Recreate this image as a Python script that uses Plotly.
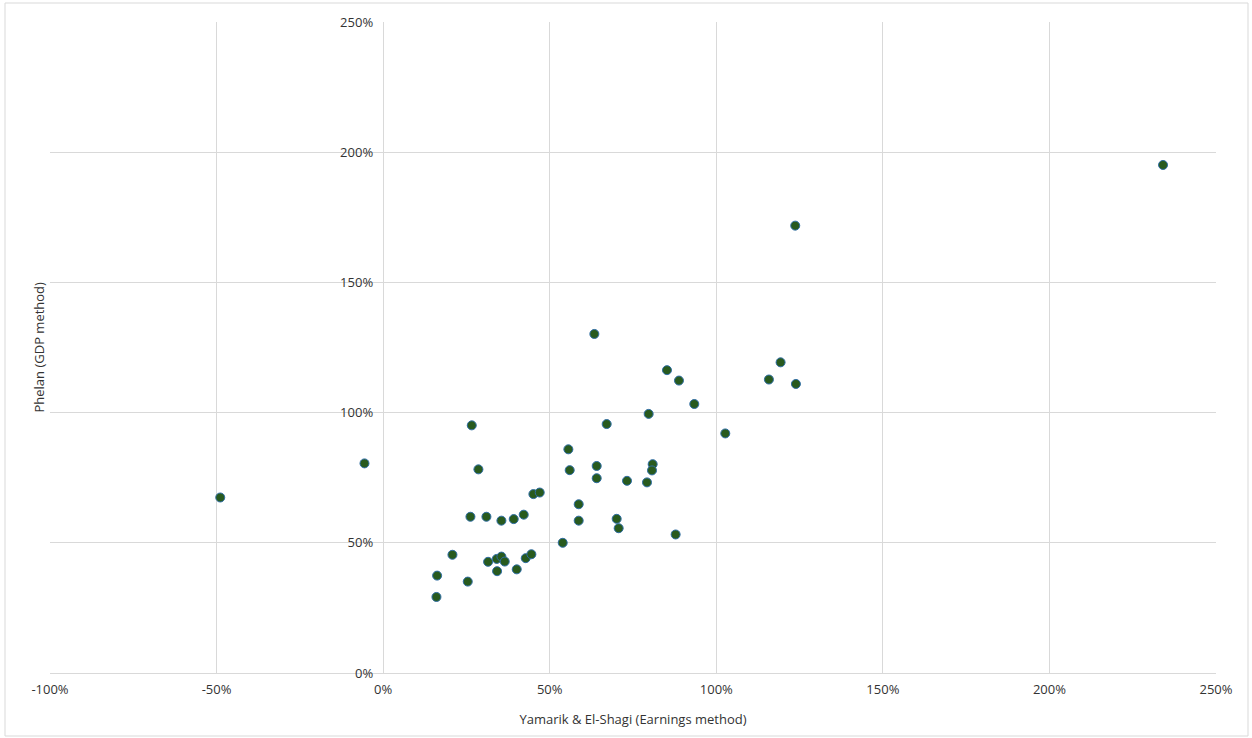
import plotly.graph_objects as go

# Estimated excess returns by state: earnings-based vs GDP-based method (fractions)
earnings_method = [
    -0.489, -0.056, 0.162, 0.160, 0.208, 0.254, 0.262, 0.266, 0.286, 0.310,
    0.315, 0.341, 0.342, 0.355, 0.355, 0.365, 0.392, 0.401, 0.422, 0.428,
    0.445, 0.451, 0.470, 0.539, 0.556, 0.560, 0.587, 0.587, 0.634, 0.641,
    0.641, 0.671, 0.701, 0.707, 0.732, 0.792, 0.797, 0.809, 0.807, 0.852,
    0.878, 0.888, 0.934, 1.027, 1.158, 1.193, 1.237, 1.239, 2.341,
]
gdp_method = [
    0.674, 0.805, 0.374, 0.292, 0.454, 0.351, 0.600, 0.951, 0.782, 0.600,
    0.427, 0.438, 0.391, 0.585, 0.447, 0.428, 0.591, 0.398, 0.608, 0.441,
    0.456, 0.687, 0.693, 0.500, 0.859, 0.779, 0.648, 0.585, 1.302, 0.795,
    0.748, 0.956, 0.592, 0.556, 0.738, 0.732, 0.995, 0.802, 0.778, 1.163,
    0.532, 1.123, 1.033, 0.920, 1.127, 1.193, 1.718, 1.110, 1.951,
]

x_ticks = [-1.0, -0.5, 0.0, 0.5, 1.0, 1.5, 2.0, 2.5]
x_tick_labels = ["-100%", "-50%", "0%", "50%", "100%", "150%", "200%", "250%"]
y_ticks = [0.0, 0.5, 1.0, 1.5, 2.0, 2.5]
y_tick_labels = ["0%", "50%", "100%", "150%", "200%", "250%"]
x_range = [-1.0, 2.5]
y_range = [0.0, 2.5]

x_title = "Yamarik & El-Shagi (Earnings method)"
y_title = "Phelan (GDP method)"

W, H = 1252, 738
L, R, T, B = 50, 36, 22, 65
plot_w = W - L - R
plot_h = H - T - B

font_family = "Segoe UI, Open Sans, Noto Sans, sans-serif"
text_color = "#333333"
grid_color = "#d9d9d9"

fig = go.Figure()
fig.add_trace(go.Scatter(
    x=earnings_method,
    y=gdp_method,
    mode="markers",
    marker=dict(size=9, color="#285a1e", line=dict(color="#2e6da4", width=1)),
    hoverinfo="x+y",
    showlegend=False,
))

# y axis crosses the x axis at 0
y_axis_pos = (0 - x_range[0]) / (x_range[1] - x_range[0])

fig.update_layout(
    width=W,
    height=H,
    margin=dict(l=L, r=R, t=T, b=B),
    paper_bgcolor="white",
    plot_bgcolor="white",
    font=dict(family=font_family, size=13, color=text_color),
    xaxis=dict(
        range=x_range,
        tickvals=x_ticks,
        ticktext=x_tick_labels,
        showgrid=True,
        gridcolor=grid_color,
        gridwidth=1,
        zeroline=True,
        zerolinecolor=grid_color,
        zerolinewidth=1,
        showline=False,
        ticks="",
        ticklabelstandoff=7,
        title=dict(text=x_title, font=dict(size=13, color=text_color), standoff=17),
    ),
    yaxis=dict(
        range=y_range,
        tickvals=y_ticks,
        ticktext=y_tick_labels,
        showgrid=True,
        gridcolor=grid_color,
        gridwidth=1,
        zeroline=True,
        zerolinecolor=grid_color,
        zerolinewidth=1,
        showline=False,
        ticks="",
        anchor="free",
        position=y_axis_pos,
        ticklabelstandoff=10,
    ),
    annotations=[
        dict(
            text=y_title,
            textangle=-90,
            xref="paper", yref="paper",
            x=(38 - L) / plot_w, y=0.5,
            xanchor="center", yanchor="middle",
            showarrow=False,
            font=dict(size=13, color=text_color),
        )
    ],
    shapes=[
        dict(
            type="rect",
            xref="paper", yref="paper",
            x0=(5 - L) / plot_w, x1=(W - 4 - L) / plot_w,
            y0=-(H - 2 - T - plot_h) / plot_h, y1=1 + (T - 3) / plot_h,
            line=dict(color="#d9d9d9", width=1),
            fillcolor="rgba(0,0,0,0)",
            layer="below",
        )
    ],
)

fig.write_html("out.html")
